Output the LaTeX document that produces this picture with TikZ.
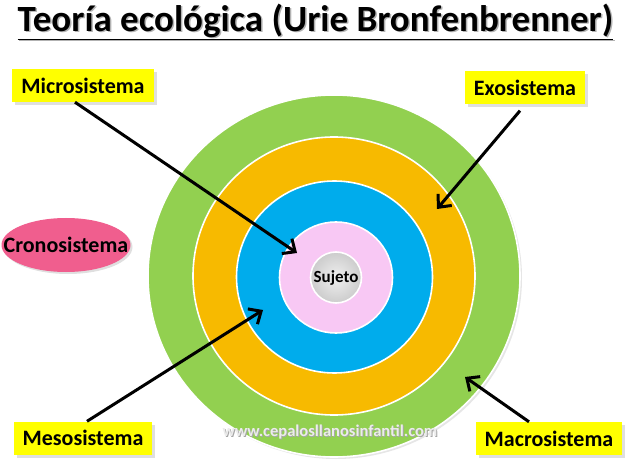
\documentclass[tikz,border=0pt]{standalone}
\usepackage{fontspec}
\setmainfont{Carlito}
\usetikzlibrary{arrows.meta,positioning,shapes.geometric,shadows}
\definecolor{ringgreen}{RGB}{146,208,80}
\definecolor{ringgold}{RGB}{247,186,0}
\definecolor{ringblue}{RGB}{0,172,236}
\definecolor{ringpink}{RGB}{248,200,244}
\definecolor{cronopink}{RGB}{240,94,142}
\definecolor{tagyellow}{RGB}{255,255,0}

\begin{document}
\begin{tikzpicture}[x=1pt,y=-1pt,
  tag/.style={fill=tagyellow,font=\fontsize{22}{26}\selectfont\bfseries,
    inner xsep=9pt,minimum height=33pt,
    drop shadow={opacity=0.25,shadow xshift=3pt,shadow yshift=-3pt}},
  ring/.style={ellipse,draw=white,line width=1.6pt,inner sep=0pt},
  arr/.style={-{Straight Barb[length=10pt,width=18pt]},line width=3pt}
]
  \useasboundingbox (0,0) rectangle (640,473);

  % title
  \node[font=\fontsize{37}{42}\selectfont\bfseries,text=gray!60] at (317,23)
    {\underline{Teoría ecológica (Urie Bronfenbrenner)}};
  \node[font=\fontsize{37}{42}\selectfont\bfseries] (title) at (315.5,21.5)
    {\underline{Teoría ecológica (Urie Bronfenbrenner)}};

  % rings
  \node[ring,fill=ringgreen,minimum width=372pt,minimum height=362pt,
    drop shadow={opacity=0.2,shadow xshift=2pt,shadow yshift=-2pt}] (macroring) at (334,276) {};
  \node[ring,fill=ringgold,minimum width=282pt,minimum height=278pt] (exoring) at (334,276) {};
  \node[ring,fill=ringblue,minimum width=196pt,minimum height=192pt] (mesoring) at (334.5,277) {};
  \node[ring,fill=ringpink,minimum width=113pt,minimum height=111pt] (microring) at (336,277.5) {};
  \node[ring,circle,inner color=gray!12,outer color=gray!40,minimum size=51pt,
    font=\fontsize{17}{20}\selectfont\bfseries] (sujeto) at (336,277.5) {Sujeto};

  % cronosistema
  \node[ellipse,fill=cronopink,minimum width=129pt,minimum height=54pt,inner sep=0pt,
    drop shadow={opacity=0.25,shadow xshift=2pt,shadow yshift=-2pt},
    label={[font=\fontsize{22}{26}\selectfont\bfseries]center:Cronosistema}] (crono) at (66,245) {};

  % labels
  \node[tag] (micro) at (83,85.5) {Microsistema};
  \node[tag] (exo) at (525,88) {Exosistema};
  \node[tag] (meso) at (83,438) {Mesosistema};
  \node[tag] (macro) at (549,438.5) {Macrosistema};

  \coordinate (microtip) at (297,253);
  \coordinate (exotip) at (437,209);
  \coordinate (mesotip) at (263,310);
  \coordinate (macrotip) at (465,377);

  \draw[arr] ([xshift=-8pt]micro.south) -- (microtip);
  \draw[arr] ([xshift=-5pt,yshift=-6pt]exo.south) -- (exotip);
  \draw[arr] ([xshift=4pt]meso.north) -- (mesotip);
  \draw[arr] ([xshift=-20pt]macro.north) -- (macrotip);

  % watermark
  \node[font=\fontsize{16.5}{19}\selectfont\bfseries,text=gray!70] at (331,433)
    {www.cepalosllanosinfantil.com};
  \node[font=\fontsize{16.5}{19}\selectfont\bfseries,text=gray!15] (web) at (330,432)
    {www.cepalosllanosinfantil.com};
\end{tikzpicture}
\end{document}
